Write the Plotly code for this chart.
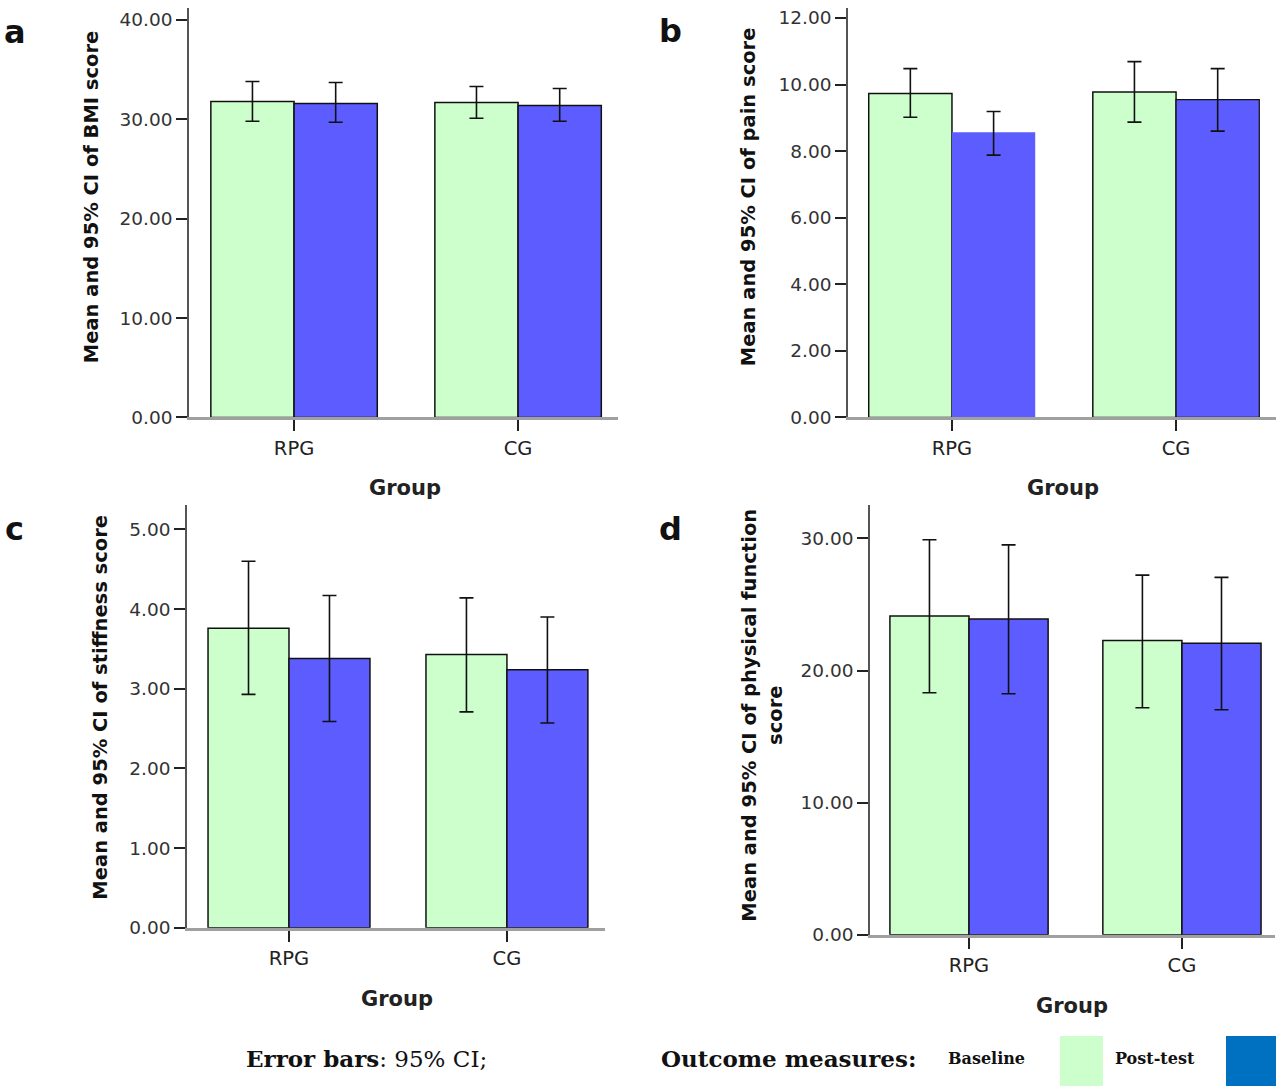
import plotly.graph_objects as go

groups = ["RPG", "CG"]

# panel a - BMI
bmi_base = [31.8, 31.7]
bmi_base_hi = [33.8, 33.3]
bmi_base_lo = [29.8, 30.1]
bmi_post = [31.6, 31.4]
bmi_post_hi = [33.7, 33.1]
bmi_post_lo = [29.7, 29.8]

# panel b - pain
pain_base = [9.73, 9.78]
pain_base_hi = [10.48, 10.69]
pain_base_lo = [9.02, 8.87]
pain_post = [8.57, 9.55]
pain_post_hi = [9.19, 10.48]
pain_post_lo = [7.88, 8.60]

# panel c - stiffness
stiff_base = [3.76, 3.43]
stiff_base_hi = [4.60, 4.14]
stiff_base_lo = [2.93, 2.71]
stiff_post = [3.38, 3.24]
stiff_post_hi = [4.17, 3.90]
stiff_post_lo = [2.59, 2.57]

# panel d - physical function
phys_base = [24.14, 22.28]
phys_base_hi = [29.9, 27.23]
phys_base_lo = [18.32, 17.19]
phys_post = [23.91, 22.07]
phys_post_hi = [29.52, 27.06]
phys_post_lo = [18.25, 17.04]

green = "#ccffcc"
blue = "#5c5cff"
W, H = 1280, 1089   # reference pixel grid used for placement
FIG_H = 1100        # page height actually photographed
sans = "DejaVu Sans, Verdana, sans-serif"
serif = "DejaVu Serif, Times New Roman, serif"

panels = [
    (bmi_base, bmi_base_hi, bmi_base_lo, bmi_post, bmi_post_hi, bmi_post_lo,
     41.2, 10, [189, 618], [-0.469, 1.446], [8, 417],
     "Mean and 95% CI of BMI score", (91, 197), [1.5, 1.5]),
    (pain_base, pain_base_hi, pain_base_lo, pain_post, pain_post_hi, pain_post_lo,
     12.3, 2, [848, 1276], [-0.464, 1.446], [8, 417],
     "Mean and 95% CI of pain score", (748, 197), [0, 1.2]),
    (stiff_base, stiff_base_hi, stiff_base_lo, stiff_post, stiff_post_hi, stiff_post_lo,
     5.3, 1, [187, 605], [-0.468, 1.45], [505, 927],
     "Mean and 95% CI of stiffness score", (101, 707), [1.5, 1.5]),
    (phys_base, phys_base_hi, phys_base_lo, phys_post, phys_post_hi, phys_post_lo,
     32.5, 10, [870, 1275], [-0.465, 1.437], [505, 934],
     "Mean and 95% CI of physical function<br>score", (762, 715), [1.5, 1.5]),
]

fig = go.Figure()
annotations = []

for i, p in enumerate(panels):
    mb, hb, lb, mp, hp, lp, ytop, dt, xd, xr, yd, ytitle, tpos, post_lw = p
    n = "" if i == 0 else str(i + 1)
    xa, ya = "x" + n, "y" + n
    fig.add_trace(go.Bar(
        x=groups, y=mb, xaxis=xa, yaxis=ya, marker_color=green,
        marker_line=dict(color="#111", width=1.5), showlegend=False,
        error_y=dict(type="data", symmetric=False,
                     array=[h - m for h, m in zip(hb, mb)],
                     arrayminus=[m - l for m, l in zip(mb, lb)],
                     color="#111", thickness=1.6, width=7)))
    fig.add_trace(go.Bar(
        x=groups, y=mp, xaxis=xa, yaxis=ya, marker_color=blue,
        marker_line=dict(color="#111", width=post_lw), showlegend=False,
        error_y=dict(type="data", symmetric=False,
                     array=[h - m for h, m in zip(hp, mp)],
                     arrayminus=[m - l for m, l in zip(mp, lp)],
                     color="#111", thickness=1.6, width=7)))
    fig.update_layout(**{
        "xaxis" + n: dict(domain=[xd[0] / W, xd[1] / W], anchor=ya,
                          range=xr, showline=True, linecolor="#a0a0a0",
                          linewidth=2.5, ticks="outside", ticklen=11, tickwidth=2,
                          tickcolor="#222",
                          tickfont=dict(size=19.5, color="#222", family=sans)),
        "yaxis" + n: dict(domain=[1 - yd[1] / H, 1 - yd[0] / H], anchor=xa,
                          range=[0, ytop], dtick=dt, tickformat=".2f",
                          showline=True, linecolor="#555", linewidth=1.5,
                          showgrid=False, zeroline=False, ticks="outside",
                          ticklen=11, tickwidth=2, tickcolor="#222",
                          tickfont=dict(size=18.5, color="#333", family=sans)),
    })
    annotations.append(dict(text="<b>" + ytitle + "</b>", textangle=-90,
                            x=tpos[0] / W, y=1 - tpos[1] / H,
                            xref="paper", yref="paper", showarrow=False,
                            xanchor="center", yanchor="middle",
                            font=dict(size=19.5, color="#111", family=sans)))

# "Group" titles
for gx, gy in [(405, 488), (1063, 488), (397, 998), (1072, 1005)]:
    annotations.append(dict(text="<b>Group</b>", x=gx / W, y=1 - gy / H,
                            xref="paper", yref="paper", showarrow=False,
                            xanchor="center", yanchor="middle",
                            font=dict(size=21, color="#222", family=sans)))

# panel letters
for lt, lx, ly in [("a", 15, 32), ("b", 670, 31), ("c", 14, 529), ("d", 670, 529)]:
    annotations.append(dict(text="<b>" + lt + "</b>", x=lx / W, y=1 - ly / H,
                            xref="paper", yref="paper", showarrow=False,
                            xanchor="center", yanchor="middle",
                            font=dict(size=32, color="#111", family=sans)))

# bottom key
for txt, cx, fs in [("<b>Error bars</b>: 95% CI;", 366, 23),
                    ("<b>Outcome measures:</b>", 788, 23),
                    ("<b>Baseline</b>", 986, 16),
                    ("<b>Post-test</b>", 1155, 16)]:
    annotations.append(dict(text=txt, x=cx / W, y=1 - 1058 / H,
                            xref="paper", yref="paper", showarrow=False,
                            xanchor="center", yanchor="middle",
                            font=dict(size=fs, color="#111", family=serif)))

shapes = [
    dict(type="rect", xref="paper", yref="paper", x0=1060 / W, x1=1103 / W,
         y0=1 - 1085 / H, y1=1 - 1035 / H, fillcolor=green, line_width=0),
    dict(type="rect", xref="paper", yref="paper", x0=1226 / W, x1=1276 / W,
         y0=1 - 1085 / H, y1=1 - 1035 / H, fillcolor="#0070c0", line_width=0),
]

fig.update_layout(
    width=W, height=FIG_H, margin=dict(l=0, r=0, t=0, b=0),
    plot_bgcolor="white", paper_bgcolor="white",
    barmode="group", bargap=0.257, bargroupgap=0,
    font=dict(family=sans),
    annotations=annotations, shapes=shapes,
)

fig.write_html(
    "out.html",
    config={"displayModeBar": False},
    post_script=("document.body.style.margin='0';"
                 "document.body.style.overflow='hidden';"),
)
